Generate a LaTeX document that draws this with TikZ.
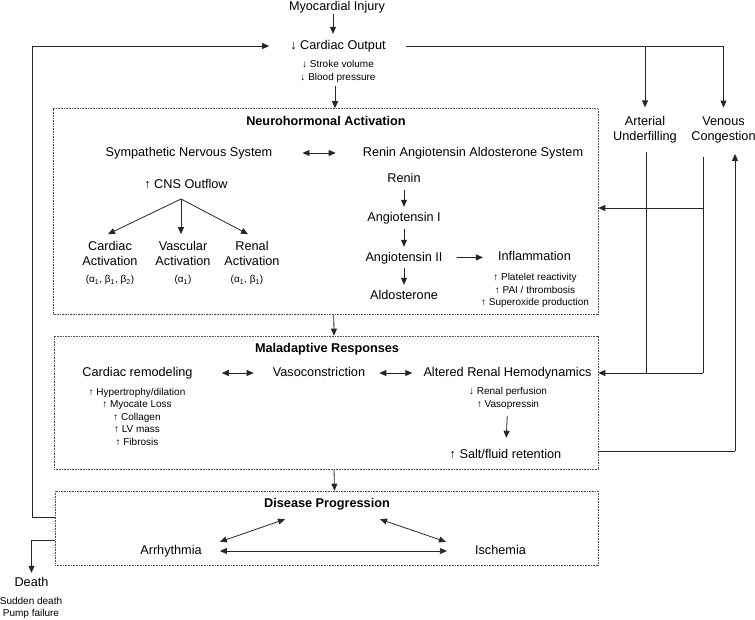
\documentclass[tikz,border=0pt]{standalone}
\usepackage{fontspec}
\setmainfont{Liberation Sans}
\usetikzlibrary{arrows.meta}
\newcommand{\msz}{\fontsize{12.7pt}{15pt}\selectfont}
\newcommand{\ssz}{\fontsize{10pt}{12.5pt}\selectfont}
\begin{document}
\begin{tikzpicture}[x=1pt,y=-1pt,
  txt/.style={font=\msz, inner sep=1pt, text height=9.3pt, text depth=2.7pt},
  mtxt/.style={font=\msz, inner sep=1pt, align=center},
  stxt/.style={font=\ssz, inner sep=1pt, align=center},
  ttl/.style={font=\msz\bfseries, inner sep=1pt, text height=9.3pt, text depth=2.7pt},
  frame/.style={draw=black!70, line width=0.6pt, dash pattern=on 0.8pt off 0.8pt, inner sep=0pt},
  conn/.style={draw=black!85, line width=0.8pt},
  arr/.style={conn, -{Triangle[length=7pt,width=6pt]}},
  darr/.style={conn, {Triangle[length=7pt,width=6pt]}-{Triangle[length=7pt,width=6pt]}}
]
\useasboundingbox (0,0) rectangle (755,619);

% frames
\node[frame, minimum width=544.5pt, minimum height=205.5pt] (nh) at (325.75,211.25) {};
\node[frame, minimum width=544pt, minimum height=133pt] (ma) at (326,402.5) {};
\node[frame, minimum width=543pt, minimum height=74pt] (dp) at (326.5,528) {};

% top
\node[txt] (inj) at (337,7) {Myocardial Injury};
\node[txt] (co) at (338,46) {↓ Cardiac Output};
\node[stxt, font=\fontsize{10pt}{13pt}\selectfont] (sv) at (338,71.5) {↓ Stroke volume\\↓ Blood pressure};

% neurohormonal
\node[ttl] (nht) at (326,122) {Neurohormonal Activation};
\node[txt] (sns) at (189,153) {Sympathetic Nervous System};
\node[txt] (raas) at (473,153) {Renin Angiotensin Aldosterone System};
\node[txt] (cns) at (186,185) {↑ CNS Outflow};
\coordinate (apex) at (181,199);
\node[mtxt] (ca) at (110,253.5) {Cardiac\\Activation};
\node[mtxt] (va) at (183,253.5) {Vascular\\Activation};
\node[mtxt] (ra) at (252,253.5) {Renal\\Activation};
\node[stxt] (caa) at (110,280) {(α\textsubscript{1}, β\textsubscript{1}, β\textsubscript{2})};
\node[stxt] (vaa) at (183,280) {(α\textsubscript{1})};
\node[stxt] (raa) at (247,280) {(α\textsubscript{1}, β\textsubscript{1})};
\node[txt] (renin) at (404,179) {Renin};
\node[txt] (a1) at (404,218) {Angiotensin I};
\node[txt] (a2) at (404,258) {Angiotensin II};
\node[txt] (ald) at (404,296) {Aldosterone};
\node[txt] (infl) at (534.5,257) {Inflammation};
\node[stxt] (infll) at (535,290.5) {↑ Platelet reactivity\\↑ PAI / thrombosis\\↑ Superoxide production};

% right side
\node[mtxt] (art) at (645,129.5) {Arterial\\Underfilling};
\node[mtxt] (ven) at (723.5,129.5) {Venous\\Congestion};

% maladaptive
\node[ttl] (mat) at (327,349) {Maladaptive Responses};
\node[txt] (crem) at (137.5,373) {Cardiac remodeling};
\node[txt] (vaso) at (319,373) {Vasoconstriction};
\node[txt] (arh) at (507.5,373) {Altered Renal Hemodynamics};
\node[stxt] (creml) at (137,417) {↑ Hypertrophy/dilation\\↑ Myocate Loss\\↑ Collagen\\↑ LV mass\\↑ Fibrosis};
\node[stxt, font=\fontsize{10pt}{13pt}\selectfont] (arhl) at (508,398.5) {↓ Renal perfusion\\↑ Vasopressin};
\node[txt] (salt) at (505.5,455) {↑ Salt/fluid retention};

% disease progression
\node[ttl] (dpt) at (327,504) {Disease Progression};
\node[txt] (arrh) at (171,551) {Arrhythmia};
\node[txt] (isc) at (500.5,551) {Ischemia};
\node[txt] (death) at (31.5,583) {Death};
\node[stxt, font=\fontsize{10pt}{12pt}\selectfont] (deathl) at (31,608) {Sudden death\\Pump failure};

% bus coordinates
\coordinate (lp) at (32,46);
\coordinate (aTop) at (646,152);
\coordinate (aBot) at (646,373);
\coordinate (vTop) at (703,157);
\coordinate (vBot) at (703,373);
\coordinate (vBr) at (703,208);
\coordinate (sR) at (735,451);

% connectors top
\draw[arr, shorten >=5pt] ([xshift=-4pt]inj.south) -- ([xshift=-4pt]inj.south |- co.north);
\draw[arr, shorten >=7.5pt] ([xshift=19pt]co.east) -| (ven.north);
\draw[arr, shorten >=7.5pt] (art.north |- co.east) -- (art.north);
\draw[arr, shorten <=2pt] ([xshift=-3pt]sv.south) -- ([xshift=-3pt]sv.south |- nh.north);

% neurohormonal connectors
\draw[darr, shorten <=29pt, shorten >=26pt] (sns) -- (raas);
\draw[arr] (apex) -- ([xshift=-2pt,yshift=6pt]ca.north);
\draw[arr] (apex) -- ([xshift=-2pt,yshift=6pt]va.north);
\draw[arr] (apex) -- ([xshift=-4pt,yshift=6pt]ra.north);
\draw[arr, shorten <=4pt, shorten >=4pt] (renin) -- (a1);
\draw[arr, shorten <=4pt, shorten >=4pt] (a1) -- (a2);
\draw[arr, shorten <=3pt, shorten >=4pt] (a2) -- (ald);
\draw[arr, shorten <=13pt, shorten >=14pt] (a2) -- (infl);

% right side buses
\draw[conn] (aTop) -- (aBot);
\draw[conn] (vTop) -- (vBot);
\draw[arr] (vBr) -- (vBr -| nh.east);
\draw[arr] (vBot) -- (vBot -| ma.east);
\draw[conn] (sR -| ma.east) -- (sR);
\draw[arr, shorten >=10pt] (sR) -- (sR |- ven.south);

% maladaptive connectors
\draw[arr] ([xshift=8pt]nh.south) -- ([xshift=8pt]ma.north);
\draw[darr, shorten <=28pt, shorten >=18pt] (crem) -- (vaso);
\draw[darr, shorten <=13pt, shorten >=10pt] (vaso) -- (arh);
\draw[arr, shorten <=5pt, shorten >=10pt] (arhl) -- (salt);

% disease progression connectors
\draw[arr] ([xshift=8pt]ma.south) -- ([xshift=8pt]dp.north);
\draw[darr, shorten <=17pt, shorten >=27pt] (arrh) -- (isc);
\draw[darr] ([xshift=17pt,yshift=2pt]arrh.north east) -- ([xshift=22pt,yshift=-8pt]dpt.south west);
\draw[darr] ([xshift=-11pt,yshift=-8pt]dpt.south east) -- ([xshift=-28pt,yshift=2pt]isc.north west);

% feedback and death
\draw[arr, shorten >=20pt] ([yshift=11pt]dp.west) -| (lp) -- (co.west);
\draw[arr, shorten >=3pt] ([yshift=-12pt]dp.west) -| (death.north);
\end{tikzpicture}
\end{document}
